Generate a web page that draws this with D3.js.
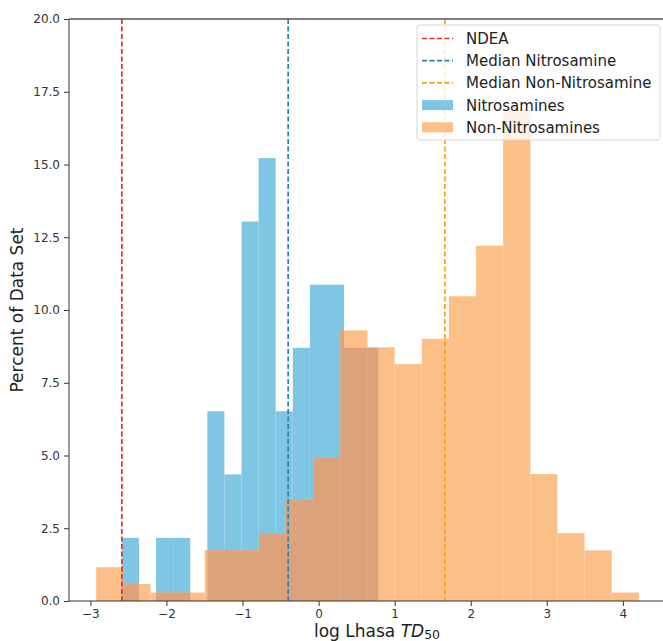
<!DOCTYPE html>
<html>
<head>
<meta charset="utf-8">
<script src="https://cdn.jsdelivr.net/npm/d3@7"></script>
<style>
  body { margin: 0; background: #fff; }
  svg { display: block; font-family: "DejaVu Sans", sans-serif; }
</style>
</head>
<body>
<div id="chart"></div>
<script>
// histogram bins: [first edge, last edge] and percent per bin
const nitroRange = [-2.586, 0.784];
const nitroPct = [2.17, 0, 2.17, 2.17, 0, 6.52, 4.35, 13.04, 15.22, 6.52, 8.70, 10.87, 10.87, 8.70, 8.70];

const nonNitroRange = [-2.924, 4.21];
const nonNitroPct = [1.16, 0.58, 0.29, 0.29, 1.74, 1.74, 2.33, 3.49, 4.94, 9.30, 8.72, 8.14, 9.01, 10.47, 12.21, 16.86, 4.36, 2.33, 1.74, 0.29];

// reference lines
const refLines = [
  { label: "NDEA", value: -2.586, color: "#e8302c" },
  { label: "Median Nitrosamine", value: -0.40, color: "#2484b0" },
  { label: "Median Non-Nitrosamine", value: 1.66, color: "#f5a21b" }
];

const xTicks = [-3, -2, -1, 0, 1, 2, 3, 4];
const yTicks = [0, 2.5, 5, 7.5, 10, 12.5, 15, 17.5, 20];

const blue = "#7ec6e3", orange = "#fdbf88", overlap = "#dca27c";

const width = 663, height = 641;
const margin = { top: 19, right: -3, bottom: 40, left: 69 };

const svg = d3.select("#chart").append("svg")
  .attr("width", width)
  .attr("height", height);

const x = d3.scaleLinear()
  .domain([-3.281, 4.567])
  .range([margin.left, width - margin.right]);

const y = d3.scaleLinear()
  .domain([0, 20])
  .range([height - margin.bottom, margin.top]);

function toBins(range, values) {
  const w = (range[1] - range[0]) / values.length;
  return values.map((v, i) => ({ x0: range[0] + i * w, x1: range[0] + (i + 1) * w, v }));
}

const nitroBins = toBins(nitroRange, nitroPct).filter(d => d.v > 0);
const nonNitroBins = toBins(nonNitroRange, nonNitroPct);

function drawBars(g, bins, fill) {
  g.selectAll("rect")
    .data(bins)
    .enter().append("rect")
    .attr("x", d => x(d.x0))
    .attr("width", d => x(d.x1) - x(d.x0))
    .attr("y", d => y(d.v))
    .attr("height", d => y(0) - y(d.v))
    .attr("fill", fill);
}

// clip of the nitrosamine bars, used to colour where the two histograms overlap
const clip = svg.append("defs").append("clipPath").attr("id", "nitro-clip");
drawBars(clip, nitroBins, "#000");

const plot = svg.append("g");
drawBars(plot.append("g"), nitroBins, blue);
drawBars(plot.append("g"), nonNitroBins, orange);
drawBars(plot.append("g").attr("clip-path", "url(#nitro-clip)"), nonNitroBins, overlap);

// dashed vertical lines
plot.selectAll(".ref")
  .data(refLines)
  .enter().append("line")
  .attr("x1", d => x(d.value))
  .attr("x2", d => x(d.value))
  .attr("y1", y(20))
  .attr("y2", y(0))
  .attr("stroke", d => d.color)
  .attr("stroke-width", 1.7)
  .attr("stroke-dasharray", "5,2.5");

// axes
const xAxis = svg.append("g")
  .attr("transform", `translate(0,${y(0)})`)
  .call(d3.axisBottom(x).tickValues(xTicks).tickSize(5).tickPadding(3)
    .tickFormat(d => d < 0 ? "\u2212" + Math.abs(d) : d));

const yAxis = svg.append("g")
  .attr("transform", `translate(${margin.left},0)`)
  .call(d3.axisLeft(y).tickValues(yTicks).tickSize(5).tickPadding(4)
    .tickFormat(d3.format(".1f")));

[xAxis, yAxis].forEach(g => {
  g.select(".domain").remove();
  g.selectAll("line").attr("stroke", "#333");
  g.selectAll("text").attr("fill", "#333").style("font-size", "12px")
    .style("font-family", "DejaVu Sans, sans-serif");
});

// spines
svg.append("line").attr("x1", margin.left).attr("x2", margin.left)
  .attr("y1", y(20)).attr("y2", y(0)).attr("stroke", "#333");
svg.append("line").attr("x1", margin.left).attr("x2", width)
  .attr("y1", y(0)).attr("y2", y(0)).attr("stroke", "#333");
svg.append("line").attr("x1", margin.left).attr("x2", width)
  .attr("y1", y(20)).attr("y2", y(20)).attr("stroke", "#555").attr("stroke-width", 1.3);

// axis labels
const xLabel = svg.append("text")
  .attr("x", 377)
  .attr("y", 637)
  .attr("text-anchor", "middle")
  .attr("fill", "#222")
  .style("font-size", "17px");
xLabel.append("tspan").text("log Lhasa ");
xLabel.append("tspan").style("font-style", "italic").text("TD");
xLabel.append("tspan").attr("dy", 2).style("font-size", "12.5px").text("50");

svg.append("text")
  .attr("transform", `translate(23,${(y(0) + y(20)) / 2}) rotate(-90)`)
  .attr("text-anchor", "middle")
  .attr("fill", "#222")
  .style("font-size", "17px")
  .text("Percent of Data Set");

// legend
const legendItems = refLines.map(d => ({ label: d.label, color: d.color, type: "line" }))
  .concat([
    { label: "Nitrosamines", color: blue, type: "patch" },
    { label: "Non-Nitrosamines", color: orange, type: "patch" }
  ]);

const legend = svg.append("g").attr("transform", "translate(417,25)");
legend.append("rect")
  .attr("width", 243)
  .attr("height", 115)
  .attr("rx", 3)
  .attr("fill", "#fff")
  .attr("fill-opacity", 0.8)
  .attr("stroke", "#d6d6d6");

const rows = legend.selectAll(".row")
  .data(legendItems)
  .enter().append("g")
  .attr("transform", (d, i) => `translate(0,${13.5 + i * 22.2})`);

rows.filter(d => d.type === "line").append("line")
  .attr("x1", 5).attr("x2", 36)
  .attr("stroke", d => d.color)
  .attr("stroke-width", 1.7)
  .attr("stroke-dasharray", "5,2.5");

rows.filter(d => d.type === "patch").append("rect")
  .attr("x", 5).attr("y", -5)
  .attr("width", 31).attr("height", 10)
  .attr("fill", d => d.color);

rows.append("text")
  .attr("x", 49)
  .attr("dy", "0.36em")
  .attr("fill", "#222")
  .style("font-size", "15px")
  .text(d => d.label);
</script>
</body>
</html>
